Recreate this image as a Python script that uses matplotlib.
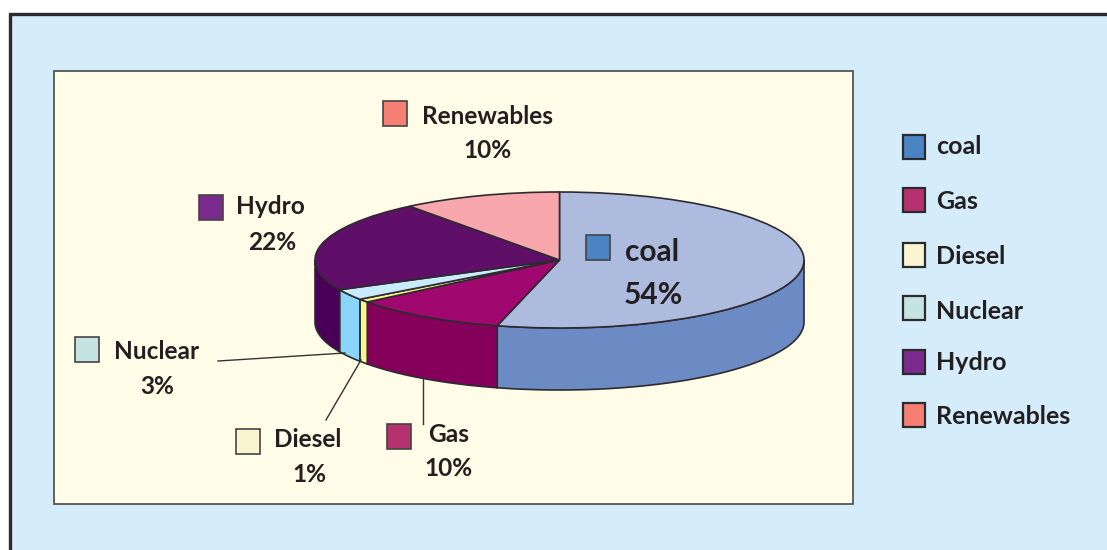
import numpy as np
import matplotlib
matplotlib.use("Agg")
import matplotlib.pyplot as plt
from matplotlib.patches import Rectangle

# data
categories = ["coal", "Gas", "Diesel", "Nuclear", "Hydro", "Renewables"]
# slice sizes as measured off the pie, the printed labels are rounded
values = [54.1, 10.3, 0.8, 2.6, 21.7, 10.5]
pct_labels = ["54%", "10%", "1%", "3%", "22%", "10%"]

top_colors = ["#adbbdf", "#a0076f", "#fff38c", "#c8ecfd", "#5f0f68", "#f8a8ac"]
side_colors = ["#6c8bc4", "#85005a", "#fff38c", "#8ad6f8", "#4a0058", "#f8a8ac"]
key_colors = ["#4a84c4", "#b5326f", "#faf5d0", "#c5e3e0", "#7a2a8c", "#f57f72"]

W, H = 1107, 550
TEXT = "#231f20"
plt.rcParams["font.family"] = ["Lato", "DejaVu Sans"]
plt.rcParams["font.weight"] = "bold"

fig = plt.figure(figsize=(W / 100, H / 100), dpi=100, facecolor="white")

# page axes in pixels
page = fig.add_axes([0, 0, 1, 1])
page.set_xlim(0, W)
page.set_ylim(H, 0)
page.axis("off")

page.add_patch(Rectangle((10, 14), W + 20, H, fc="#d5ecfb", ec="#2b2a2c", lw=2.4, zorder=1))
page.add_patch(Rectangle((53.5, 70.5), 799.5, 433, fc="#fffde7", ec="#555555", lw=1.3, zorder=2))

# pie, squashed so that the unit circle becomes the ellipse
cx, cy, rx, ry, depth = 559.5, 260, 244.5, 68, 62
ax = fig.add_axes([(cx - rx) / W, 1 - (cy + ry + depth) / H, 2 * rx / W, (2 * ry + depth) / H])
wedges, _ = ax.pie(values, colors=top_colors, startangle=90, counterclock=False,
                   wedgeprops={"edgecolor": "#2e2a30", "linewidth": 1.2})
ax.set_aspect("auto")
ax.set_xlim(-1, 1)
ax.set_ylim(-1 - depth / ry, 1)
ax.patch.set_alpha(0)

# side wall, only the front half of the ellipse shows
drop = depth / ry
start = 0
for value, color in zip(values, side_colors):
    end = start + value / sum(values) * 360
    a0, a1 = max(start, 90), min(end, 270)
    if a1 > a0:
        t = np.radians(np.linspace(a0, a1, 80))
        x, y = np.sin(t), np.cos(t)
        ax.fill(np.r_[x, x[::-1]], np.r_[y, y[::-1] - drop], fc=color, ec="#2e2a30",
                lw=1.2, zorder=0.5, clip_on=False)
    start = end
for w in wedges:
    w.set_zorder(1)

# everything else sits above the pie axes
over = fig.add_axes([0, 0, 1, 1])
over.set_xlim(0, W)
over.set_ylim(H, 0)
over.axis("off")

# leader lines
leader_x = [(218, 345), (326, 361), (423, 423)]
leader_y = [(361, 353), (420, 360), (378, 424)]
for lx, ly in zip(leader_x, leader_y):
    over.plot(lx, ly, color="#333333", lw=1.0)

# data labels
label_swatch = {"coal": (586, 235), "Gas": (387, 424), "Diesel": (236, 429),
                "Nuclear": (75, 337), "Hydro": (199, 195), "Renewables": (383, 101)}
label_name = {"coal": (652, 261), "Gas": (449, 442), "Diesel": (308, 447),
              "Nuclear": (157, 359), "Hydro": (270, 214), "Renewables": (488, 124)}
label_pct = {"coal": (653, 304), "Gas": (449, 476), "Diesel": (309, 482),
             "Nuclear": (157, 394), "Hydro": (272, 250), "Renewables": (488, 158)}

for name, pct, key in zip(categories, pct_labels, key_colors):
    size = 21.5 if name == "coal" else 17.6
    sx, sy = label_swatch[name]
    over.add_patch(Rectangle((sx, sy), 24, 25, fc=key, ec="#444444", lw=1.2))
    over.text(*label_name[name], name, fontsize=size, color=TEXT, ha="center", va="baseline")
    over.text(*label_pct[name], pct, fontsize=size, color=TEXT, ha="center", va="baseline")

# key on the right
key_y = [135, 188, 243, 296, 350, 403]
key_base = [154, 209, 264, 319, 370, 424]
for name, key, y, base in zip(categories, key_colors, key_y, key_base):
    over.add_patch(Rectangle((902.5, y), 22, 24, fc=key, ec="#2b2a2c", lw=1.6))
    over.text(936.5, base, name, fontsize=18, color=TEXT, ha="left", va="baseline")

fig.savefig("out.png", dpi=100, facecolor="white")
